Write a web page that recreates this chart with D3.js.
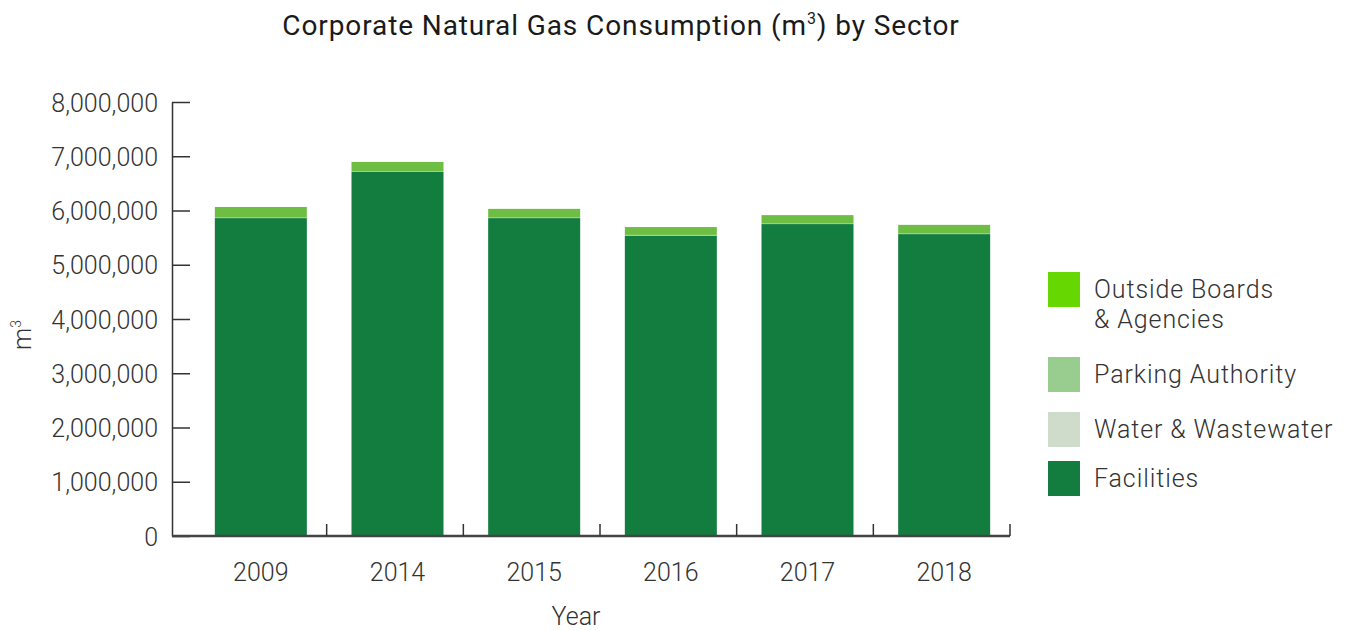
<!DOCTYPE html>
<html>
<head>
<meta charset="utf-8">
<script src="https://cdn.jsdelivr.net/npm/d3@7"></script>
<style>
  body { margin: 0; background: #fff; }
  text { font-family: Roboto, sans-serif; fill: #333; }
</style>
</head>
<body>
<svg id="svg" width="1349" height="631"></svg>
<script>
// data
const years = ["2009", "2014", "2015", "2016", "2017", "2018"];
const facilities = [5860000, 6710000, 5860000, 5535000, 5750000, 5565000];
const water = [0, 0, 0, 0, 0, 0];
const parking = [10000, 10000, 10000, 15000, 10000, 10000];
const outside = [195000, 175000, 160000, 145000, 155000, 160000];
const yTicks = [0, 1000000, 2000000, 3000000, 4000000, 5000000, 6000000, 7000000, 8000000];
const sectors = ["Facilities", "Water & Wastewater", "Parking Authority", "Outside Boards & Agencies"];
const barColors = ["#127d3f", "#cfdccb", "#99cc8f", "#6fbe44"];
const legendColors = ["#127d3f", "#cfdccb", "#99cc8f", "#66d700"];

var svg = d3.select("#svg");
var margin = {top: 102, bottom: 536, left: 172, right: 1010};

var rows = years.map((y, i) => ({year: y, "Facilities": facilities[i], "Water & Wastewater": water[i],
  "Parking Authority": parking[i], "Outside Boards & Agencies": outside[i]}));
var stacked = d3.stack().keys(sectors)(rows);

var x = d3.scaleBand().domain(years).range([190, margin.right]);
var y = d3.scaleLinear().domain([0, 8000000]).range([margin.bottom, margin.top]);
var barW = 92;

// title
var title = svg.append("text")
    .attr("x", 621).attr("y", 35)
    .attr("text-anchor", "middle")
    .attr("font-size", 28).attr("font-weight", 400)
    .attr("letter-spacing", 0.9)
    .style("fill", "#1a1a1a");
title.append("tspan").text("Corporate Natural Gas Consumption (m");
title.append("tspan").attr("font-size", 16).attr("dy", -11).text("3");
title.append("tspan").attr("dy", 11).text(") by Sector");

// bars
svg.append("g").selectAll("g")
  .data(stacked)
  .join("g")
    .attr("fill", (d, i) => barColors[i])
  .selectAll("rect")
  .data(d => d)
  .join("rect")
    .attr("x", d => x(d.data.year) + x.bandwidth() / 2 - barW / 2 + 2.5)
    .attr("y", d => y(d[1]))
    .attr("height", d => y(d[0]) - y(d[1]))
    .attr("width", barW);

// y axis
var yAxis = svg.append("g")
    .attr("transform", "translate(" + margin.left + ",0)")
    .call(d3.axisLeft(y).tickValues(yTicks).tickSizeInner(-18).tickSizeOuter(0)
      .tickPadding(14).tickFormat(d3.format(",")));
yAxis.select(".domain").attr("stroke", "#333").attr("stroke-width", 1.5);
yAxis.selectAll(".tick line").attr("stroke", "#333").attr("stroke-width", 1.5);
yAxis.selectAll("text").attr("font-size", 25).attr("font-weight", 300).attr("fill", "#333").attr("dy", "0.36em");

// x axis: boundary ticks pointing up
var bounds = years.slice(1).map(d => x(d)).concat([margin.right]);
svg.append("line")
    .attr("x1", margin.left).attr("x2", margin.right)
    .attr("y1", margin.bottom).attr("y2", margin.bottom)
    .attr("stroke", "#444").attr("stroke-width", 2.5);
svg.append("g").selectAll("line")
  .data(bounds)
  .join("line")
    .attr("x1", d => d).attr("x2", d => d)
    .attr("y1", margin.bottom).attr("y2", margin.bottom - 12)
    .attr("stroke", "#333").attr("stroke-width", 1.5);
svg.append("g").selectAll("text")
  .data(years)
  .join("text")
    .attr("x", d => x(d) + x.bandwidth() / 2 + 2.5)
    .attr("y", 581)
    .attr("text-anchor", "middle")
    .attr("font-size", 25).attr("font-weight", 300)
    .text(d => d);

// axis titles
svg.append("text")
    .attr("x", 576).attr("y", 625)
    .attr("text-anchor", "middle")
    .attr("font-size", 25).attr("font-weight", 300)
    .text("Year");
var yl = svg.append("text")
    .attr("transform", "translate(31,335) rotate(-90)")
    .attr("text-anchor", "middle")
    .attr("font-size", 25).attr("font-weight", 300);
yl.append("tspan").text("m");
yl.append("tspan").attr("font-size", 14).attr("dy", -10).text("3");

// legend
const legendItems = [
  {lines: ["Outside Boards", "& Agencies"], color: legendColors[3], top: 272},
  {lines: ["Parking Authority"], color: legendColors[2], top: 357},
  {lines: ["Water & Wastewater"], color: legendColors[1], top: 412},
  {lines: ["Facilities"], color: legendColors[0], top: 461}
];
var lg = svg.append("g").selectAll("g")
  .data(legendItems)
  .join("g")
    .attr("transform", d => "translate(1048," + d.top + ")");
lg.append("rect").attr("width", 32).attr("height", 35).attr("fill", d => d.color);
lg.append("text")
    .attr("x", 46).attr("y", 26)
    .attr("font-size", 25).attr("font-weight", 300)
    .attr("letter-spacing", 0.9)
  .selectAll("tspan")
  .data(d => d.lines)
  .join("tspan")
    .attr("x", 46)
    .attr("dy", (d, i) => i ? 30 : 0)
    .text(d => d);
</script>
</body>
</html>
